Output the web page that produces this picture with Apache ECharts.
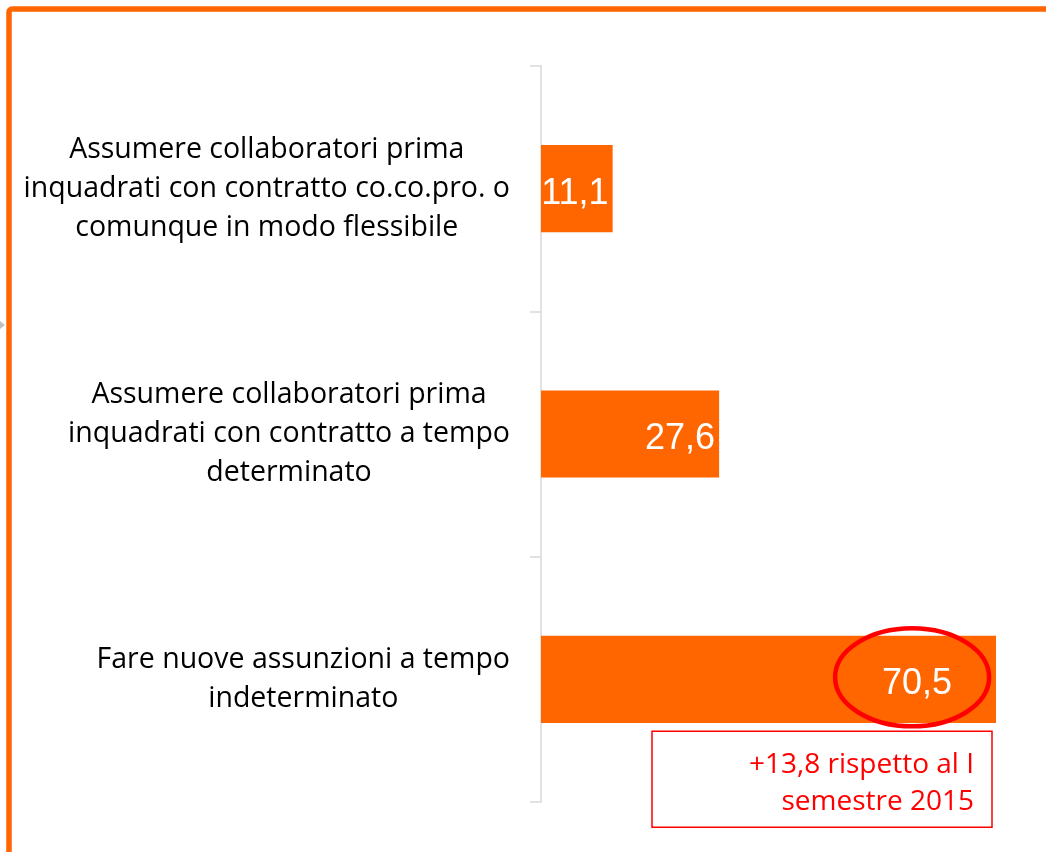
<!DOCTYPE html>
<html>
<head>
<meta charset="utf-8">
<script src="https://cdn.jsdelivr.net/npm/echarts@6/dist/echarts.min.js"></script>
<style>html,body{margin:0;padding:0;background:#fff;}#c{width:1046px;height:852px;}</style>
</head>
<body>
<div id="c"></div>
<script>
const categories = [
  "Assumere collaboratori prima\ninquadrati con contratto co.co.pro. o\ncomunque in modo flessibile",
  "Assumere collaboratori prima\ninquadrati con contratto a tempo\ndeterminato",
  "Fare nuove assunzioni a tempo\nindeterminato"
];
const values = [11.1, 27.6, 70.5];
const noteText = "+13,8 rispetto al I\nsemestre 2015";

const chart = echarts.init(document.getElementById('c'));
const fmt = v => String(v).replace('.', ',');
chart.setOption({
  animation: false,
  grid: {left: 541, right: 50, top: 66, bottom: 50},
  xAxis: {type: 'value', min: 0, max: 70.5, show: false},
  yAxis: {
    type: 'category', data: categories, inverse: true,
    axisLine: {show: true, lineStyle: {color: '#d9d9d9', width: 1.5}},
    axisTick: {show: true, length: 11, lineStyle: {color: '#d9d9d9', width: 1.5}},
    axisLabel: {
      margin: 31, align: 'right', color: '#000',
      fontFamily: 'Open Sans', fontSize: 28.5, lineHeight: 39,
      formatter: v => v.split('\n').map(l => '{c|' + l + '}').join('\n'),
      rich: {c: {align: 'center', fontFamily: 'Open Sans', fontSize: 28.5, lineHeight: 39, color: '#000'}}
    }
  },
  series: [{
    type: 'bar', barWidth: '35.5%',
    itemStyle: {color: '#FF6600'},
    data: values.map((v, i) => ({
      value: v,
      label: i === 2 ? {offset: [-40, 5]} : {offset: [0, 5]}
    })),
    label: {
      show: true, position: 'insideRight', distance: 4,
      color: '#fff', fontFamily: 'Liberation Sans', fontSize: 36,
      formatter: p => fmt(p.value)
    }
  }]
});

const c = chart.convertToPixel({gridIndex: 0}, [values[2] - 13, 2]);
const bandBottom = chart.convertToPixel({gridIndex: 0}, [values[2], 2])[1];
chart.setOption({
  graphic: [
    {type: 'rect', z: 100, shape: {x: 9, y: 9, width: 1100, height: 900, r: 3},
     style: {fill: 'none', stroke: '#FF6600', lineWidth: 5.5}},
    {type: 'polygon', z: 100, shape: {points: [[0, 321], [5, 325], [0, 329]]}, style: {fill: '#bfbfbf'}},
    {type: 'ellipse', z: 100, shape: {cx: c[0], cy: c[1] - 2, rx: 77, ry: 49},
     style: {fill: 'none', stroke: '#FF0000', lineWidth: 4.5}},
    {type: 'rect', z: 100, shape: {x: 652, y: bandBottom + 52, width: 340, height: 96},
     style: {fill: '#fff', stroke: '#FF0000', lineWidth: 1.5}},
    {type: 'text', z: 101, x: 974, y: bandBottom + 104,
     style: {text: noteText, fill: '#FF0000', fontFamily: 'Open Sans', fontSize: 28,
             lineHeight: 37, align: 'right', verticalAlign: 'middle'}}
  ]
});
</script>
</body>
</html>
